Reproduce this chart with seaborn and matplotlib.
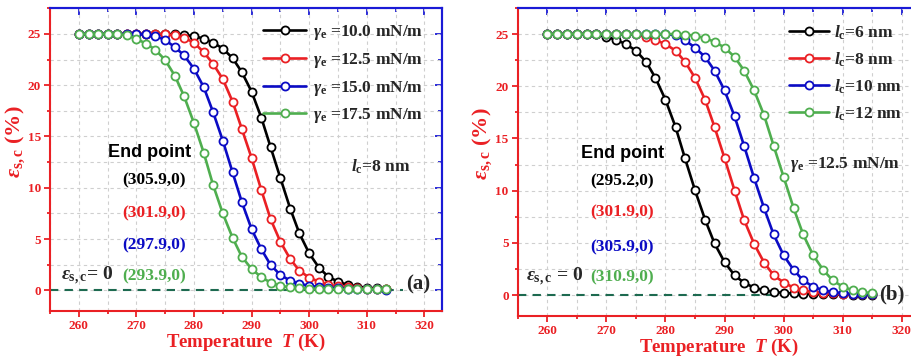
#%%
import seaborn as sns
import pandas as pd
import matplotlib.pyplot as plt
from matplotlib.ticker import MultipleLocator

# %%
temp_a = [260.0, 261.7, 263.3, 265.0, 266.7, 268.3, 270.0, 271.7, 273.3, 275.0,
          276.7, 278.3, 280.0, 281.7, 283.3, 285.0, 286.7, 288.3, 290.0, 291.7,
          293.3, 295.0, 296.7, 298.3, 300.0, 301.7, 303.3, 305.0, 306.7, 308.3,
          310.0, 311.7, 313.3]
temp_b = temp_a + [315.0]

gamma_labels = [r'$\gamma_{\rm e}$ =10.0 mN/m', r'$\gamma_{\rm e}$ =12.5 mN/m',
                r'$\gamma_{\rm e}$ =15.0 mN/m', r'$\gamma_{\rm e}$ =17.5 mN/m']
eps_a_100 = [25.0]*10 + [24.97, 24.9, 24.78, 24.54, 24.16, 23.57, 22.64, 21.28, 19.37, 16.82,
                         13.96, 10.95, 7.98, 5.55, 3.61, 2.21, 1.34, 0.85, 0.53, 0.37,
                         0.27, 0.2, 0.15]
eps_a_125 = [25.0]*9 + [24.95, 24.85, 24.6, 24.16, 23.2, 22.1, 20.6, 18.4, 15.75, 12.9,
                        9.76, 6.94, 4.74, 3.06, 1.92, 1.24, 0.85, 0.55, 0.4, 0.3,
                        0.22, 0.17, 0.13, 0.1]
eps_a_150 = [25.0]*7 + [24.95, 24.8, 24.4, 23.7, 22.9, 21.6, 19.8, 17.4, 14.6, 11.5,
                        8.62, 5.97, 4.0, 2.48, 1.5, 0.95, 0.63, 0.45, 0.33, 0.25,
                        0.2, 0.16, 0.13, 0.11, 0.1, 0.08]
eps_a_175 = [25.0]*4 + [24.97, 24.87, 24.5, 24.06, 23.45, 22.45, 20.9, 18.9, 16.3, 13.4,
                        10.3, 7.5, 5.13, 3.28, 2.09, 1.28, 0.76, 0.44, 0.3, 0.22,
                        0.17, 0.14, 0.12, 0.1, 0.1, 0.1, 0.1, 0.1, 0.1]

lc_labels = [r'$l_{\rm c}$=6 nm', r'$l_{\rm c}$=8 nm', r'$l_{\rm c}$=10 nm', r'$l_{\rm c}$=12 nm']
eps_b_6 = [25.0]*5 + [24.97, 24.74, 24.42, 24.04, 23.4, 22.35, 20.8, 18.7, 16.1, 13.1,
                      10.03, 7.23, 4.94, 3.15, 1.88, 1.18, 0.7, 0.45, 0.3, 0.2,
                      0.15, 0.12, 0.1, 0.08, 0.07, 0.06, 0.05, 0.05, 0.05]
eps_b_8 = [25.0]*9 + [24.97, 24.74, 24.42, 24.04, 23.4, 22.35, 20.8, 18.7, 16.1, 13.1,
                      10.0, 7.2, 4.9, 3.1, 1.9, 1.2, 0.7, 0.45, 0.3, 0.2,
                      0.15, 0.12, 0.1, 0.08, 0.07]
eps_b_10 = [25.0]*12 + [24.97, 24.9, 24.4, 23.7, 22.8, 21.5, 19.6, 17.1, 14.3, 11.2,
                        8.3, 5.8, 3.8, 2.4, 1.4, 0.8, 0.45, 0.28, 0.18, 0.12,
                        0.08, 0.06]
eps_b_12 = [25.0]*14 + [24.95, 24.84, 24.6, 24.26, 23.7, 22.8, 21.5, 19.6, 17.2, 14.3,
                        11.3, 8.3, 5.8, 3.8, 2.4, 1.4, 0.8, 0.45, 0.28, 0.18]

end_a = ['(305.9,0)', '(301.9,0)', '(297.9,0)', '(293.9,0)']
end_b = ['(295.2,0)', '(301.9,0)', '(305.9,0)', '(310.9,0)']

colors = ['black', '#ea2024', '#0b0bc4', '#4fae4f']
red = '#ea2024'
blue = '#1a1ad6'

# %%
sns.set_style('ticks')
plt.rcParams['font.family'] = ['Liberation Serif', 'DejaVu Serif']
plt.rcParams['font.weight'] = 'bold'
plt.rcParams['mathtext.fontset'] = 'custom'
plt.rcParams['mathtext.rm'] = 'Liberation Serif:bold'
plt.rcParams['mathtext.bf'] = 'Liberation Serif:bold'
plt.rcParams['mathtext.it'] = 'Liberation Serif:italic:bold'

fig = plt.figure(figsize=(9.12, 3.59), dpi=100)
ax_a = fig.add_axes([0.0548, 0.134, 0.4295, 0.843])
ax_b = fig.add_axes([0.5677, 0.120, 0.4406, 0.858])


def draw_panel(ax, temp, curves, labels, ylab_x):
    ax.axhline(0, xmin=0, xmax=0.9, color='#1d6a50', ls=(0, (4, 3)), lw=1.5, zorder=1)
    for vals, lab, c in zip(curves, labels, colors):
        sns.lineplot(x=temp, y=vals, color=c, label=lab, ax=ax, lw=1.9,
                     marker='o', markersize=5.8, markerfacecolor='white',
                     markeredgecolor=c, markeredgewidth=1.3, zorder=3)

    ax.set_xlim(255, 323)
    ax.set_ylim(-2, 27.5)
    ax.xaxis.set_major_locator(MultipleLocator(10))
    ax.xaxis.set_minor_locator(MultipleLocator(5))
    ax.yaxis.set_major_locator(MultipleLocator(5))
    ax.yaxis.set_minor_locator(MultipleLocator(2.5))
    ax.grid(which='both', ls=(0, (3, 3)), color='#cfcfcf', lw=0.8)
    ax.set_axisbelow(True)

    ax.tick_params(which='both', direction='out', colors=red, labelsize=9.5,
                   width=1.3, top=False, right=False, pad=2)
    ax.tick_params(which='major', length=4.5)
    ax.tick_params(which='minor', length=2.5)
    for t in ax.get_xticklabels() + ax.get_yticklabels():
        t.set_fontweight('bold')
    ax.spines['left'].set_color(red)
    ax.spines['bottom'].set_color(red)
    ax.spines['top'].set_color(blue)
    ax.spines['right'].set_color(blue)
    for s in ax.spines.values():
        s.set_linewidth(1.5)

    # blue inward ticks on top and right
    top = ax.secondary_xaxis('top')
    top.xaxis.set_major_locator(MultipleLocator(10))
    top.xaxis.set_minor_locator(MultipleLocator(5))
    top.tick_params(which='both', direction='in', colors=blue, labeltop=False, width=1.3)
    top.tick_params(which='major', length=5)
    top.tick_params(which='minor', length=3)
    top.spines['top'].set_color(blue)
    top.spines['top'].set_linewidth(1.5)
    right = ax.secondary_yaxis('right')
    right.yaxis.set_major_locator(MultipleLocator(5))
    right.yaxis.set_minor_locator(MultipleLocator(2.5))
    right.tick_params(which='both', direction='in', colors=blue, labelright=False, width=1.3)
    right.tick_params(which='major', length=5)
    right.tick_params(which='minor', length=3)
    right.spines['right'].set_color(blue)
    right.spines['right'].set_linewidth(1.5)

    ax.set_xlabel(r'Temperature  $T$ (K)', color=red, fontsize=13.5, fontweight='bold', labelpad=0)
    ax.set_ylabel(r'$\varepsilon_{\rm s,c}$ (%)', color=red, fontsize=16, fontweight='bold')
    ax.yaxis.set_label_coords(ylab_x, 0.56)


# %%
draw_panel(ax_a, temp_a, [eps_a_100, eps_a_125, eps_a_150, eps_a_175], gamma_labels, -0.058)
ax_a.legend(loc='upper left', bbox_to_anchor=(0.545, 0.95), frameon=False,
            fontsize=12.5, handlelength=2.45, handletextpad=0.4, labelspacing=0.5,
            borderpad=0, borderaxespad=0)
ax_a.text(272.3, 13.4, 'End point', ha='center', va='center', fontsize=13,
          fontweight='bold', family='Liberation Sans', color='black')
for lab, c, yy in zip(end_a, colors, [10.7, 7.55, 4.4, 1.4]):
    ax_a.text(273.0, yy, lab, ha='center', va='center', fontsize=12.5, color=c)
ax_a.text(312.5, 12.0, r'$l_{\rm c}$=8 nm', ha='center', va='center', fontsize=12.5)
ax_a.text(261.5, 1.4, r'$\varepsilon_{\rm s,c}$= 0', ha='center', va='center', fontsize=14)
ax_a.text(319.0, 0.6, '(a)', ha='center', va='center', fontsize=15)

draw_panel(ax_b, temp_b, [eps_b_6, eps_b_8, eps_b_10, eps_b_12], lc_labels, -0.058)
ax_b.legend(loc='upper left', bbox_to_anchor=(0.675, 0.95), frameon=False,
            fontsize=12.5, handlelength=2.3, handletextpad=0.3, labelspacing=0.5,
            borderpad=0, borderaxespad=0)
ax_b.text(272.7, 13.6, 'End point', ha='center', va='center', fontsize=13,
          fontweight='bold', family='Liberation Sans', color='black')
for lab, c, yy in zip(end_b, colors, [10.9, 7.9, 4.6, 1.7]):
    ax_b.text(272.6, yy, lab, ha='center', va='center', fontsize=12.5, color=c)
ax_b.text(301.0, 12.5, r'$\gamma_{\rm e}$ =12.5 mN/m', ha='left', va='center', fontsize=12.5)
ax_b.text(261.3, 1.75, r'$\varepsilon_{\rm s,c}$ = 0', ha='center', va='center', fontsize=14)
ax_b.text(318.3, 0.1, '(b)', ha='center', va='center', fontsize=15)

plt.savefig('out.png', dpi=100)
